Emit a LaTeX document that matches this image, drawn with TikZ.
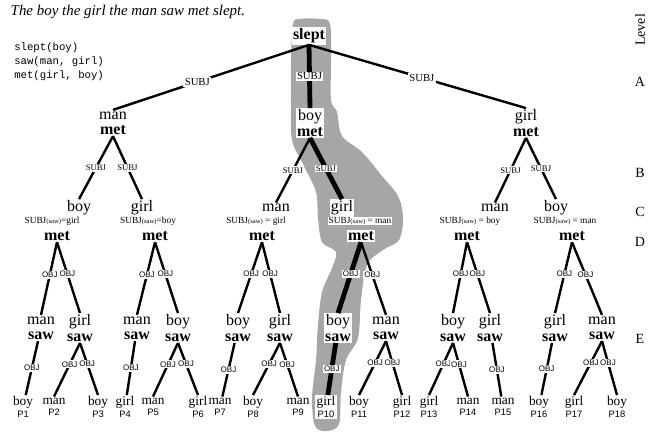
\documentclass[tikz,border=0pt]{standalone}
\usepackage{fontspec}
\setmainfont{Liberation Serif}
\setsansfont{Liberation Sans}
\setmonofont{Liberation Mono}
\newcommand\subsaw{{\fontsize{5}{6}\selectfont(saw)}}
\newcommand\leafw[2]{#1\\{\sffamily\fontsize{7}{8.5}\selectfont #2}}
\begin{document}
\begin{tikzpicture}[x=0.75pt, y=-0.75pt,
    wordnode/.style={align=center, fill=white, inner sep=1pt, font=\fontsize{12}{11.5}\selectfont},
    metnode/.style={fill=white, inner sep=1pt, font=\fontsize{12}{12}\selectfont\bfseries},
    leafnode/.style={align=center, fill=white, inner sep=1pt, font=\fontsize{10}{8.5}\selectfont},
    toplab/.style={fill=white, inner sep=1pt, font=\fontsize{8}{9}\selectfont},
    arclab/.style={fill=white, inner sep=0.8pt, font=\fontsize{6.5}{7}\selectfont},
    objlab/.style={fill=white, inner sep=0.8pt, font=\sffamily\fontsize{6}{7}\selectfont},
    sawlab/.style={fill=white, inner sep=0.5pt, font=\fontsize{7}{8}\selectfont},
    levlab/.style={font=\fontsize{10.5}{12}\selectfont},
    branch/.style={line width=1.8pt},
    onpath/.style={line width=3.6pt},
]
\useasboundingbox (0,0) rectangle (659,439);

\fill[black!35] plot[smooth cycle, tension=0.55] coordinates {
    (293,24) (300,19) (320,19) (330,24) (331,60) (331,100) (337,112)
    (342,136) (362,152) (382,176) (398,196) (403,218) (399,240) (383,250)
    (367,265) (361,300) (358,338) (346,360) (341,392) (339,424) (327,431)
    (315,426) (312,398) (316,360) (318,325) (322,292) (332,268) (336,252)
    (322,242) (318,218) (316,192) (304,166) (292,140) (291,104) (291,60)};

\node[anchor=west, font=\itshape\fontsize{11.2}{12}\selectfont] (title) at (6,12)
    {The boy the girl the man saw met slept.};
\node[anchor=north west, align=left, inner sep=0pt,
    font=\ttfamily\fontsize{8}{10.5}\selectfont] (preds) at (14,43)
    {slept(boy)\\saw(man, girl)\\met(girl, boy)};

\node[levlab, rotate=90] (lev) at (640,30) {Level};
\node[levlab] (levA) at (640,82) {A};
\node[levlab] (levB) at (640,173) {B};
\node[levlab] (levC) at (640,212) {C};
\node[levlab] (levD) at (640,242) {D};
\node[levlab] (levE) at (640,339) {E};

\node[metnode] (slept) at (309,36) {slept};

\node[wordnode] (a1) at (113,123) {man\\\textbf{met}};
\node[wordnode] (a2) at (310,123) {boy\\\textbf{met}};
\node[wordnode] (a3) at (526,123) {girl\\\textbf{met}};

\node[wordnode] (b1) at (79,208) {boy};
\node[wordnode] (b2) at (142,208) {girl};
\node[wordnode] (b3) at (276,208) {man};
\node[wordnode] (b4) at (342,208) {girl};
\node[wordnode] (b5) at (495,208) {man};
\node[wordnode] (b6) at (556,208) {boy};

\node[sawlab] (s1) at (52,221) {SUBJ\subsaw=girl};
\node[sawlab] (s2) at (148,221) {SUBJ\subsaw=boy};
\node[sawlab] (s3) at (256,221) {SUBJ\subsaw\ = girl};
\node[sawlab] (s4) at (360,221) {SUBJ\subsaw\ = man};
\node[sawlab] (s5) at (470,221) {SUBJ\subsaw\ = boy};
\node[sawlab] (s6) at (565,221) {SUBJ\subsaw\ = man};

\node[metnode] (c1) at (57,236) {met};
\node[metnode] (c2) at (155,236) {met};
\node[metnode] (c3) at (262,236) {met};
\node[metnode] (c4) at (361,236) {met};
\node[metnode] (c5) at (467,236) {met};
\node[metnode] (c6) at (572,236) {met};

\node[wordnode] (d1) at (41,328) {man\\\textbf{saw}};
\node[wordnode] (d2) at (80,328) {girl\\\textbf{saw}};
\node[wordnode] (d3) at (137,328) {man\\\textbf{saw}};
\node[wordnode] (d4) at (178,328) {boy\\\textbf{saw}};
\node[wordnode] (d5) at (238,328) {boy\\\textbf{saw}};
\node[wordnode] (d6) at (280,328) {girl\\\textbf{saw}};
\node[wordnode] (d7) at (338,328) {boy\\\textbf{saw}};
\node[wordnode] (d8) at (386,328) {man\\\textbf{saw}};
\node[wordnode] (d9) at (453,328) {boy\\\textbf{saw}};
\node[wordnode] (d10) at (490,328) {girl\\\textbf{saw}};
\node[wordnode] (d11) at (555,328) {girl\\\textbf{saw}};
\node[wordnode] (d12) at (602,328) {man\\\textbf{saw}};

\node[leafnode] (e1) at (23,407) {\leafw{boy}{P1}};
\node[leafnode] (e2) at (54,407) {\leafw{man}{P2}};
\node[leafnode] (e3) at (98,407) {\leafw{boy}{P3}};
\node[leafnode] (e4) at (125,407) {\leafw{girl}{P4}};
\node[leafnode] (e5) at (153,407) {\leafw{man}{P5}};
\node[leafnode] (e6) at (198,407) {\leafw{girl}{P6}};
\node[leafnode] (e7) at (220,407) {\leafw{man}{P7}};
\node[leafnode] (e8) at (253,407) {\leafw{boy}{P8}};
\node[leafnode] (e9) at (298,407) {\leafw{man}{P9}};
\node[leafnode] (e10) at (326,407) {\leafw{girl}{P10}};
\node[leafnode] (e11) at (359,407) {\leafw{boy}{P11}};
\node[leafnode] (e12) at (402,407) {\leafw{girl}{P12}};
\node[leafnode] (e13) at (429,407) {\leafw{girl}{P13}};
\node[leafnode] (e14) at (468,407) {\leafw{man}{P14}};
\node[leafnode] (e15) at (503,407) {\leafw{man}{P15}};
\node[leafnode] (e16) at (539,407) {\leafw{boy}{P16}};
\node[leafnode] (e17) at (574,407) {\leafw{girl}{P17}};
\node[leafnode] (e18) at (617,407) {\leafw{boy}{P18}};

\draw[branch] (slept.south) -- node[toplab, pos=0.57] {SUBJ} (a1.north);
\draw[onpath] (slept.south) -- node[toplab] {SUBJ} (a2.north);
\draw[branch] (slept.south) -- node[toplab, pos=0.52] {SUBJ} (a3.north);

\draw[branch] (a1.south) -- node[arclab] {SUBJ} (b1.north);
\draw[branch] (a1.south) -- node[arclab] {SUBJ} (b2.north);
\draw[branch] (a2.south) -- node[arclab] {SUBJ} (b3.north);
\draw[onpath] (a2.south) -- node[arclab] {SUBJ} (b4.north);
\draw[branch] (a3.south) -- node[arclab] {SUBJ} (b5.north);
\draw[branch] (a3.south) -- node[arclab] {SUBJ} (b6.north);

\draw[branch] (c1.south) -- node[objlab, pos=0.45] {OBJ} (d1.north);
\draw[branch] (c1.south) -- node[objlab, pos=0.45] {OBJ} (d2.north);
\draw[branch] (c2.south) -- node[objlab, pos=0.45] {OBJ} (d3.north);
\draw[branch] (c2.south) -- node[objlab, pos=0.45] {OBJ} (d4.north);
\draw[branch] (c3.south) -- node[objlab, pos=0.45] {OBJ} (d5.north);
\draw[branch] (c3.south) -- node[objlab, pos=0.45] {OBJ} (d6.north);
\draw[onpath] (c4.south) -- node[objlab, pos=0.45] {OBJ} (d7.north);
\draw[branch] (c4.south) -- node[objlab, pos=0.45] {OBJ} (d8.north);
\draw[branch] (c5.south) -- node[objlab, pos=0.45] {OBJ} (d9.north);
\draw[branch] (c5.south) -- node[objlab, pos=0.45] {OBJ} (d10.north);
\draw[branch] (c6.south) -- node[objlab, pos=0.45] {OBJ} (d11.north);
\draw[branch] (c6.south) -- node[objlab, pos=0.45] {OBJ} (d12.north);

\draw[branch] (d1) -- node[objlab] {OBJ} (e1);
\draw[branch] (d2.south) -- node[objlab, pos=0.4] {OBJ} (e2.north);
\draw[branch] (d2.south) -- node[objlab, pos=0.4] {OBJ} (e3.north);
\draw[branch] (d3) -- node[objlab] {OBJ} (e4);
\draw[branch] (d4.south) -- node[objlab, pos=0.4] {OBJ} (e5.north);
\draw[branch] (d4.south) -- node[objlab, pos=0.4] {OBJ} (e6.north);
\draw[branch] (d5) -- node[objlab] {OBJ} (e7);
\draw[branch] (d6.south) -- node[objlab, pos=0.4] {OBJ} (e8.north);
\draw[branch] (d6.south) -- node[objlab, pos=0.4] {OBJ} (e9.north);
\draw[onpath] (d7) -- node[objlab] {OBJ} (e10);
\draw[branch] (d8.south) -- node[objlab, pos=0.4] {OBJ} (e11.north);
\draw[branch] (d8.south) -- node[objlab, pos=0.4] {OBJ} (e12.north);
\draw[branch] (d9.south) -- node[objlab, pos=0.4] {OBJ} (e13.north);
\draw[branch] (d9.south) -- node[objlab, pos=0.4] {OBJ} (e14.north);
\draw[branch] (d10) -- node[objlab] {OBJ} (e15);
\draw[branch] (d11) -- node[objlab] {OBJ} (e16);
\draw[branch] (d12.south) -- node[objlab, pos=0.4] {OBJ} (e17.north);
\draw[branch] (d12.south) -- node[objlab, pos=0.4] {OBJ} (e18.north);
\end{tikzpicture}
\end{document}
